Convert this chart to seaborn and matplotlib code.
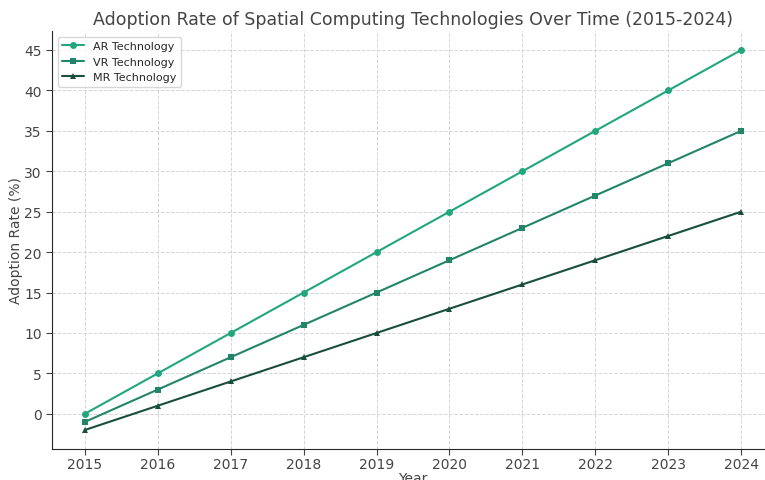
import numpy as np
import pandas as pd
import matplotlib.pyplot as plt
import seaborn as sns

# Chart data
years = [2015, 2016, 2017, 2018, 2019, 2020, 2021, 2022, 2023, 2024]
ar_rate = [0, 5, 10, 15, 20, 25, 30, 35, 40, 45]
vr_rate = [-1, 3, 7, 11, 15, 19, 23, 27, 31, 35]
mr_rate = [-2, 1, 4, 7, 10, 13, 16, 19, 22, 25]

series_names = ["AR Technology", "VR Technology", "MR Technology"]
colors = ["#21a67f", "#22856a", "#184f3b"]
markers = ["o", "s", "^"]

sns.set_style("ticks")
plt.rcParams['font.family'] = ['DejaVu Sans']

fig = plt.figure(figsize=(7.65, 4.81), dpi=100)
ax = fig.add_axes([52 / 765, 31 / 481, 722 / 765, 418 / 481])

for name, values, c, m in zip(series_names, [ar_rate, vr_rate, mr_rate], colors, markers):
    df = pd.DataFrame({"Year": years, "Rate": values})
    sns.lineplot(data=df, x="Year", y="Rate", ax=ax, color=c, marker=m,
                 markersize=5, markeredgewidth=0, linewidth=1.5, label=name)

ax.set_xticks(years)
ax.set_yticks(np.arange(0, 50, 5))
ax.set_title("Adoption Rate of Spatial Computing Technologies Over Time (2015-2024)",
             fontsize=12.5, color="#444444", pad=5)
ax.set_xlabel("Year", fontsize=10, color="#444444", labelpad=0)
ax.set_ylabel("Adoption Rate (%)", fontsize=10, color="#444444", labelpad=1)
ax.tick_params(labelsize=10, colors="#444444", length=4)
ax.tick_params(axis="x", pad=2)
ax.grid(True, linestyle="--", color="#d5d5d5", linewidth=0.7)
ax.legend(loc="upper left", fontsize=8, frameon=True)
sns.despine(ax=ax, top=True, right=True)

fig.savefig("out.png", dpi=100)
